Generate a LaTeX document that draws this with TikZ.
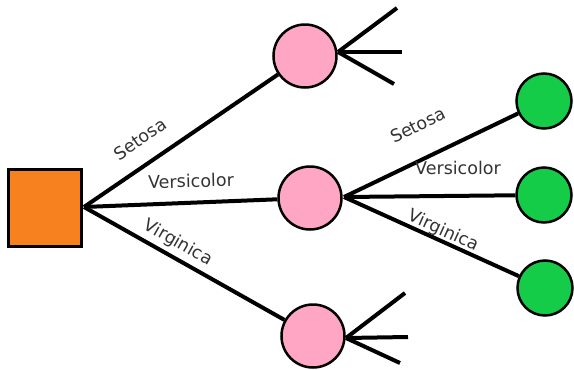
\documentclass[tikz,border=0pt]{standalone}
\usepackage{fontspec}
\setmainfont{DejaVu Sans}
\definecolor{sqorange}{HTML}{F7811F}
\definecolor{cpink}{HTML}{FFA6C4}
\definecolor{cgreen}{HTML}{14CC47}
\definecolor{txtgray}{HTML}{333333}
\begin{document}
\begin{tikzpicture}[x=1pt,y=-1pt,
  sq/.style={draw=black,line width=3pt,fill=sqorange,minimum width=73pt,minimum height=77pt,inner sep=0pt},
  pinkc/.style={circle,draw=black,line width=2.5pt,fill=cpink,minimum size=63pt,inner sep=0pt},
  greenc/.style={circle,draw=black,line width=2.5pt,fill=cgreen,minimum size=55pt,inner sep=0pt},
  conn/.style={line width=4pt,black},
  lbl/.style={font=\fontsize{17.5}{20}\selectfont,text=txtgray,inner sep=0pt}]
\useasboundingbox (0,0) rectangle (574,370);
\node[sq] (root) at (45,208) {};
\coordinate (r0) at (84,207);
\node[pinkc] (p1) at (305,56) {};
\node[pinkc] (p2) at (310,198) {};
\node[pinkc] (p3) at (313,336) {};
\node[greenc] (g1) at (544,101) {};
\node[greenc] (g2) at (544,195) {};
\node[greenc] (g3) at (545,288) {};
% connectors from root
\draw[conn] (r0) -- (p1);
\draw[conn] (r0) -- (p2);
\draw[conn] (r0) -- (p3);
% connectors from middle pink
\coordinate (m0) at (344,197);
\draw[conn] (m0) -- (g1);
\draw[conn] (m0) -- (g2);
\draw[conn] (m0) -- (g3);
% fan top
\coordinate (t0) at (338,52);
\coordinate (t1) at (397,8);
\coordinate (t2) at (402,52);
\coordinate (t3) at (394,84);
\draw[conn] (t0) -- (t1);
\draw[conn] (t0) -- (t2);
\draw[conn] (t0) -- (t3);
% fan bottom
\coordinate (b0) at (346,338);
\coordinate (b1) at (405,293);
\coordinate (b2) at (408,337);
\coordinate (b3) at (400,363);
\draw[conn] (b0) -- (b1);
\draw[conn] (b0) -- (b2);
\draw[conn] (b0) -- (b3);
% labels
\node[lbl,rotate=34.5] (ls1) at (140,139) {Setosa};
\node[lbl,rotate=1.5] (lv1) at (191,181) {Versicolor};
\node[lbl,rotate=-29.5] (lg1) at (178,243) {Virginica};
\node[lbl,rotate=25.8] (ls2) at (418,125) {Setosa};
\node[lbl] (lv2) at (458,168) {Versicolor};
\node[lbl,rotate=-24.5] (lg2) at (443,231) {Virginica};
\end{tikzpicture}
\end{document}
